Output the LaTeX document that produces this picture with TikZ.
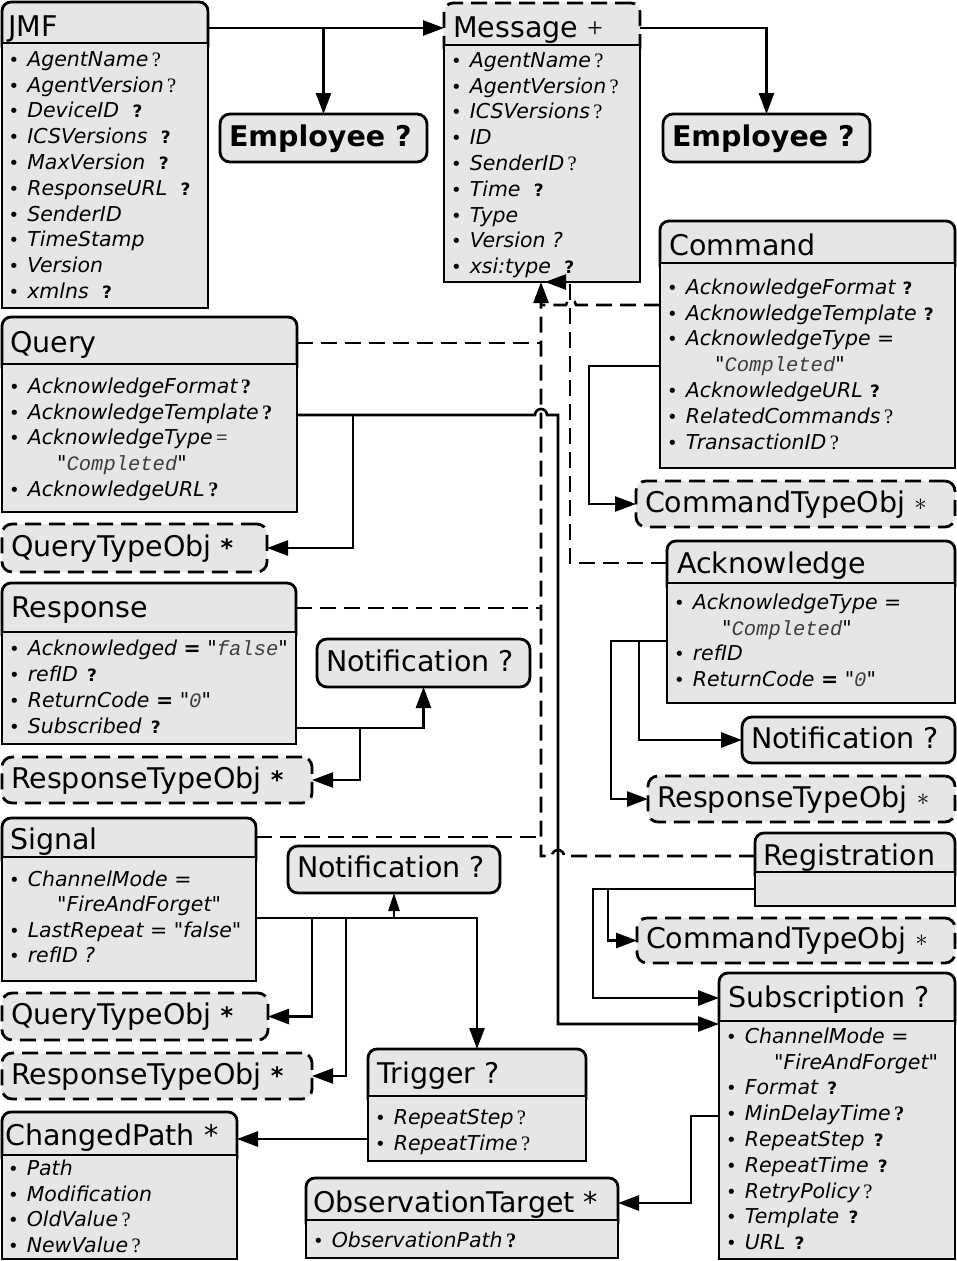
\documentclass[tikz,border=0pt]{standalone}
\usepackage{fontspec}
\setmainfont{DejaVu Sans}[Ligatures=TeXOff]
\newfontfamily\srf{Liberation Serif}
\newfontfamily\mno{Liberation Mono}
\usetikzlibrary{arrows.meta,fit}
\definecolor{boxgray}{RGB}{230,230,230}
\definecolor{monogray}{RGB}{60,60,60}
\newcommand\dq{"}
\newcommand\sq{\,{\srf\upshape ?}}
\newcommand\sbq{\,{\srf\upshape\bfseries ?}}
\newcommand\bq[1][0.45em]{\hspace{#1}{\upshape\bfseries\fontsize{17}{17}\selectfont ?}}
\newcommand\bul{\makebox[18.6pt][l]{\upshape\fontsize{18}{18}\selectfont\textbullet}}
\newcommand\mq[1]{\dq{\mno\color{monogray}#1}\dq}
\newcommand\ind{\hspace*{48pt}}
\newcommand\lstar{\raisebox{2pt}{\fontsize{26}{26}\selectfont$\ast$}}
\newcommand\bstar{{\fontsize{24}{24}\selectfont\bfseries *}}
\tikzset{
  hdr/.style={draw, line width=2.8pt, fill=boxgray, rounded corners=9pt, inner sep=0pt, outer sep=0pt},
  hdrd/.style={hdr, dash pattern=on 16pt off 8pt},
  bodyb/.style={draw, line width=2.8pt, fill=boxgray, inner sep=0pt, outer sep=0pt},
  ttl/.style={anchor=base west, inner sep=0pt, font=\fontsize{28.5}{30}\selectfont},
  attr/.style={anchor=north west, inner sep=0pt, align=left, font=\fontsize{20.5}{25.8}\selectfont\itshape},
  pill/.style={draw, line width=2.8pt, fill=boxgray, rounded corners=10pt, inner xsep=9pt, inner ysep=0pt, outer sep=0pt, anchor=north west, font=\fontsize{28.5}{30}\selectfont, text height=21pt, text depth=5pt},
  pilld/.style={pill, dash pattern=on 16pt off 8pt},
  conn/.style={line width=2.6pt},
  arr/.style={conn, -{Triangle[length=21pt,width=15pt]}},
  sarr/.style={conn, -{Triangle[length=18pt,width=11pt]}},
  dconn/.style={conn, dash pattern=on 16pt off 8pt},
  darr/.style={dconn, -{Triangle[length=21pt,width=15pt]}}
}
\newcommand\classbox[7]{%
  \node[#7, fit={(#2,#3) (#4,#5+12)}] (#1H) {};
  \node[bodyb, fit={(#2,#5) (#4,#6)}] (#1B) {};}
\newcommand\pill[7]{%
  \node[#1, minimum width=#5pt, minimum height=#6pt] (#2) at (#3,#4) {\makebox[\dimexpr#5pt-18pt\relax][l]{#7}};}
\begin{document}
\begin{tikzpicture}[x=1pt,y=-1pt]
\fill[white] (0,0) rectangle (957,1261);
\useasboundingbox (0,0) rectangle (957,1261);

% ---------- class boxes ----------
\classbox{jmf}{2}{2}{208}{43}{308}{hdr}
\classbox{msg}{444}{3}{640}{45}{282}{hdrd}
\classbox{cmd}{660}{221}{955}{263}{468}{hdr}
\classbox{qry}{2}{317}{297}{364}{512}{hdr}
\classbox{rsp}{2}{583}{296}{632}{744}{hdr}
\classbox{ack}{667}{541}{955}{583}{703}{hdr}
\classbox{sig}{2}{818}{256}{857}{981}{hdr}
\classbox{reg}{755}{833}{955}{872}{906}{hdr}
\classbox{sub}{719}{973}{955}{1021}{1259}{hdr}
\classbox{trg}{368}{1049}{586}{1096}{1161}{hdr}
\classbox{chp}{2}{1112}{237}{1155}{1259}{hdr}
\classbox{obs}{306}{1178}{618}{1220}{1258}{hdr}

% ---------- simple boxes ----------
\pill{pill}{emp1}{220}{114}{207}{48}{\bfseries Employee ?}
\pill{pill}{emp2}{663}{114}{207}{48}{\bfseries Employee ?}
\pill{pill}{not1}{317}{639}{213}{48}{Notification ?}
\pill{pill}{not2}{288}{846}{212}{47}{Notification ?}
\pill{pill}{not3}{742}{717}{213}{46}{Notification ?}
\pill{pilld}{cto1}{636}{481}{319}{46}{CommandTypeObj \lstar}
\pill{pilld}{cto2}{637}{918}{318}{45}{CommandTypeObj \lstar}
\pill{pilld}{qto1}{2}{524}{265}{48}{QueryTypeObj \bstar}
\pill{pilld}{qto2}{2}{993}{266}{47}{QueryTypeObj \bstar}
\pill{pilld}{rto1}{2}{757}{310}{46}{ResponseTypeObj \bstar}
\pill{pilld}{rto2}{648}{776}{307}{46}{ResponseTypeObj \lstar}
\pill{pilld}{rto3}{2}{1053}{310}{46}{ResponseTypeObj \bstar}

% ---------- titles ----------
\node[ttl] (jmfT) at (8,36) {JMF};
\node[ttl] (msgT) at (453,37) {Message {\srf\fontsize{28}{28}\selectfont +}};
\node[ttl] (cmdT) at (669,255) {Command};
\node[ttl] (qryT) at (10,352) {Query};
\node[ttl] (rspT) at (11,617) {Response};
\node[ttl] (ackT) at (677,573) {Acknowledge};
\node[ttl] (sigT) at (10,849) {Signal};
\node[ttl] (regT) at (763,865) {Registration};
\node[ttl] (subT) at (728,1007) {Subscription ?};
\node[ttl] (trgT) at (377,1083) {Trigger ?};
\node[ttl] (chpT) at (5,1145) {ChangedPath *};
\node[ttl] (obsT) at (313,1212) {ObservationTarget *};

% ---------- attributes ----------
\node[attr] (jmfA) at (8.5,66-17) {\rule{0pt}{17pt}\bul AgentName\sq\\
\bul AgentVersion\sq\\
\bul DeviceID\bq[0.65em]\\
\bul ICSVersions\bq[0.65em]\\
\bul MaxVersion\bq[0.65em]\\
\bul ResponseURL\bq[0.65em]\\
\bul SenderID\\
\bul TimeStamp\\
\bul Version\\
\bul xmlns\bq[0.65em]};

\node[attr] (msgA) at (451,67-17) {\rule{0pt}{17pt}\bul AgentName\sq\\
\bul AgentVersion\sq\\
\bul ICSVersions\sq\\
\bul ID\\
\bul SenderID\sq\\
\bul Time\bq[0.65em]\\
\bul Type\\
\bul Version ?\\
\bul xsi:type\bq[0.65em]};

\node[attr] (cmdA) at (667,294-17) {\rule{0pt}{17pt}\bul AcknowledgeFormat\bq[0.35em]\\
\bul AcknowledgeTemplate\bq[0.35em]\\
\bul AcknowledgeType =\\
\ind\mq{Completed}\\
\bul AcknowledgeURL\bq[0.35em]\\
\bul RelatedCommands\sq\\
\bul TransactionID\sq};

\node[attr] (qryA) at (9,393-17) {\rule{0pt}{17pt}\bul AcknowledgeFormat\sbq\\
\bul AcknowledgeTemplate\sbq\\
\bul AcknowledgeType\,{\srf\upshape =}\\
\ind\mq{Completed}\\
\bul AcknowledgeURL\sbq};

\node[attr, font=\fontsize{20.5}{26}\selectfont\itshape] (rspA) at (9,655-17) {\rule{0pt}{17pt}\bul Acknowledged {\upshape\bfseries =} \mq{false}\\
\bul refID\bq\\
\bul ReturnCode {\upshape\bfseries =} \mq{0}\\
\bul Subscribed\bq};

\node[attr] (ackA) at (674,609-17) {\rule{0pt}{17pt}\bul AcknowledgeType =\\
\ind\mq{Completed}\\
\bul refID\\
\bul ReturnCode {\upshape\bfseries =} \mq{0}};

\node[attr, font=\fontsize{20.5}{25.4}\selectfont\itshape] (sigA) at (9,886-17) {\rule{0pt}{17pt}\bul ChannelMode =\\
\ind\dq FireAndForget\dq\\
\bul LastRepeat = \dq false\dq\\
\bul refID ?};

\node[attr] (subA) at (726,1043-17) {\rule{0pt}{17pt}\bul ChannelMode =\\
\ind\dq FireAndForget\dq\\
\bul Format\bq\\
\bul MinDelayTime\sbq\\
\bul RepeatStep\bq\\
\bul RepeatTime\bq\\
\bul RetryPolicy\sq\\
\bul Template\bq\\
\bul URL\bq};

\node[attr] (trgA) at (375,1124-17) {\rule{0pt}{17pt}\bul RepeatStep\sq\\
\bul RepeatTime\sq};

\node[attr] (chpA) at (8,1175-17) {\rule{0pt}{17pt}\bul Path\\
\bul Modification\\
\bul OldValue\sq\\
\bul NewValue\sq};

\node[attr] (obsA) at (313,1247-17) {\rule{0pt}{17pt}\bul ObservationPath\sbq};

% ---------- junction points ----------
\coordinate (jq) at (353,415);
\coordinate (jr) at (360,728);
\coordinate (ja) at (639,641);
\coordinate (jg) at (608,889);
\coordinate (js1) at (312,918);
\coordinate (js2) at (346,918);
\coordinate (trunkQ) at (541,343);
\coordinate (trunkR) at (541,608);
\coordinate (trunkS) at (541,837);
\coordinate (trunkC) at (541,305);

% ---------- dashed (inheritance) connectors ----------
\draw[darr] (regH.west |- 0,856) -- (564,856) arc[start angle=0, end angle=-180, radius=6] -- (541,856) -- (msgB.south -| 541,0);
\draw[dconn] (qryH.east |- trunkQ) -- (trunkQ);
\draw[dconn] (rspH.east |- trunkR) -- (trunkR);
\draw[dconn] (sigH.east |- trunkS) -- (trunkS);
\draw[dconn] (cmdB.west |- trunkC) -- (576,305) arc[start angle=0, end angle=-180, radius=5] -- (trunkC);
\draw[darr] (ackH.west |- 0,563) -- (570,563) -- (msgB.south -| 570,0) -- (msgB.south -| 545,0);

% ---------- solid connectors ----------
\draw[arr] (jmfH.east |- 0,28) -- (msgH.west |- 0,28);
\draw[arr] (emp1.north |- 0,28) -- (emp1.north);
\draw[arr] (msgH.east |- 0,28) -| (emp2.north);
\draw[arr] (qryB.east |- jq) -- (535,415) arc[start angle=180, end angle=360, radius=6] -- (558,415) |- (subH.west |- 0,1024);
\draw[arr] (jq) |- (qto1.east);
\draw[arr] (cmdB.west |- 0,366) -- (589,366) |- (cto1.west);
\draw[arr] (ackB.west |- ja) -- (611,641) |- (rto2.west);
\draw[arr] (ja) |- (not3.west);
\draw[arr] (regB.west |- jg) -- (593,889) |- (subH.west |- 0,998);
\draw[arr] (jg) |- (cto2.west);
\draw[arr] (rspB.east |- jr) -| (not1.south);
\draw[arr] (jr) |- (rto1.east);
\draw[arr] (sigB.east |- js1) -| (trgH.north);
\draw[sarr] (not2.south |- js1) -- (not2.south);
\draw[arr] (js1) |- (qto2.east);
\draw[arr] (js2) |- (rto3.east);
\draw[arr] (trgB.west |- 0,1139) -- (chpH.east |- 0,1139);
\draw[arr] (subB.west |- 0,1116) -- (691,1116) |- (obsH.east |- 0,1203);
\end{tikzpicture}
\end{document}
